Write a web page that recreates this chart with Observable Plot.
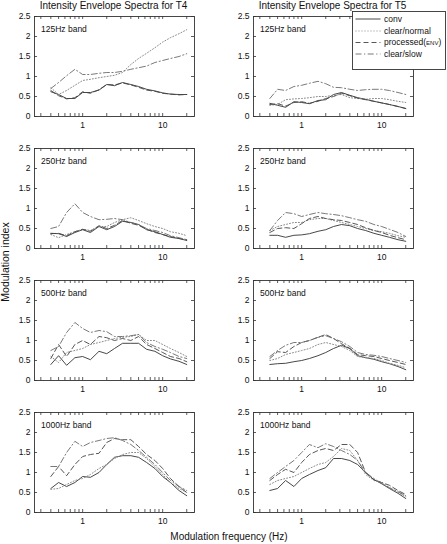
<!DOCTYPE html>
<html><head><meta charset="utf-8">
<script src="https://cdn.jsdelivr.net/npm/d3@7"></script>
<script src="https://cdn.jsdelivr.net/npm/@observablehq/plot@0.6"></script>
<style>
body{margin:0;background:#fff;font-family:"Liberation Sans",Arial,sans-serif;}
#root{position:relative;width:447px;height:544px;overflow:hidden;background:#fff;color:#111;}
.panel{position:absolute;}
.title{position:absolute;font-size:10px;line-height:10px;white-space:nowrap;transform:translateX(-50%);}
.ylab{position:absolute;font-size:10.5px;line-height:10.5px;white-space:nowrap;transform:translate(-50%,-50%) rotate(-90deg);}
.xlab{position:absolute;font-size:10px;line-height:10px;white-space:nowrap;transform:translateX(-50%);}
.legend{position:absolute;}
</style></head><body><div id="root"></div>
<script>
// ---- data ----
const freqs = [0.4, 0.5, 0.63, 0.8, 1, 1.25, 1.6, 2, 2.5, 3.15, 4, 5, 6.3, 8, 10, 12.5, 16, 20];
const talkers = ["T4", "T5"];
const bands = ["125Hz band", "250Hz band", "500Hz band", "1000Hz band"];
const seriesNames = ["conv", "clear/normal", "processed(ENV)", "clear/slow"];
const yTickValues = [0, 0.5, 1, 1.5, 2, 2.5];
const xTickLabels = [1, 10];
const xMinorTicks = [0.3, 0.4, 0.5, 0.6, 0.7, 0.8, 0.9, 1, 2, 3, 4, 5, 6, 7, 8, 9, 10, 20];

const T4_125_conv      = [0.62, 0.55, 0.45, 0.45, 0.6, 0.6, 0.66, 0.8, 0.77, 0.85, 0.8, 0.75, 0.68, 0.64, 0.59, 0.56, 0.55, 0.55];
const T4_125_normal    = [0.72, 0.55, 0.65, 0.78, 0.9, 0.93, 0.97, 1.0, 1.03, 1.1, 1.3, 1.45, 1.58, 1.72, 1.86, 1.97, 2.07, 2.17];
const T4_125_processed = [0.65, 0.52, 0.44, 0.47, 0.62, 0.58, 0.67, 0.8, 0.79, 0.84, 0.79, 0.73, 0.66, 0.63, 0.58, 0.56, 0.54, 0.55];
const T4_125_slow      = [0.7, 0.85, 1.02, 1.18, 1.05, 1.05, 1.08, 1.1, 1.1, 1.13, 1.18, 1.22, 1.26, 1.35, 1.4, 1.45, 1.5, 1.57];

const T5_125_conv      = [0.33, 0.28, 0.23, 0.37, 0.35, 0.32, 0.4, 0.42, 0.55, 0.6, 0.53, 0.47, 0.43, 0.38, 0.34, 0.3, 0.25, 0.2];
const T5_125_normal    = [0.28, 0.3, 0.42, 0.44, 0.45, 0.47, 0.5, 0.5, 0.53, 0.55, 0.47, 0.45, 0.43, 0.45, 0.45, 0.42, 0.38, 0.35];
const T5_125_processed = [0.3, 0.32, 0.26, 0.35, 0.37, 0.33, 0.38, 0.45, 0.5, 0.58, 0.52, 0.46, 0.42, 0.38, 0.34, 0.3, 0.25, 0.2];
const T5_125_slow      = [0.45, 0.68, 0.65, 0.75, 0.78, 0.83, 0.88, 0.82, 0.73, 0.72, 0.68, 0.65, 0.67, 0.68, 0.68, 0.65, 0.6, 0.55];

const T4_250_conv      = [0.38, 0.37, 0.3, 0.4, 0.47, 0.4, 0.55, 0.47, 0.55, 0.68, 0.65, 0.6, 0.47, 0.42, 0.35, 0.28, 0.25, 0.2];
const T4_250_normal    = [0.35, 0.27, 0.35, 0.42, 0.48, 0.45, 0.55, 0.55, 0.65, 0.72, 0.77, 0.7, 0.62, 0.55, 0.5, 0.42, 0.38, 0.32];
const T4_250_processed = [0.37, 0.38, 0.32, 0.42, 0.48, 0.43, 0.57, 0.5, 0.58, 0.7, 0.63, 0.58, 0.48, 0.4, 0.35, 0.3, 0.25, 0.22];
const T4_250_slow      = [0.5, 0.55, 0.9, 1.12, 0.9, 0.8, 0.72, 0.73, 0.75, 0.72, 0.65, 0.6, 0.5, 0.45, 0.4, 0.32, 0.27, 0.22];

const T5_250_conv      = [0.33, 0.33, 0.28, 0.33, 0.34, 0.37, 0.43, 0.47, 0.55, 0.6, 0.57, 0.5, 0.45, 0.38, 0.33, 0.28, 0.22, 0.18];
const T5_250_normal    = [0.45, 0.55, 0.6, 0.65, 0.65, 0.72, 0.75, 0.75, 0.7, 0.65, 0.6, 0.55, 0.5, 0.45, 0.42, 0.38, 0.32, 0.28];
const T5_250_processed = [0.4, 0.5, 0.52, 0.5, 0.62, 0.75, 0.8, 0.75, 0.72, 0.7, 0.65, 0.6, 0.52, 0.45, 0.4, 0.33, 0.27, 0.22];
const T5_250_slow      = [0.45, 0.7, 0.9, 0.87, 0.8, 0.85, 0.9, 0.87, 0.85, 0.82, 0.77, 0.72, 0.68, 0.6, 0.55, 0.48, 0.4, 0.3];

const T4_500_conv      = [0.4, 0.62, 0.38, 0.57, 0.6, 0.52, 0.73, 0.67, 0.8, 0.93, 0.93, 0.93, 0.78, 0.73, 0.62, 0.54, 0.48, 0.4];
const T4_500_normal    = [0.6, 0.45, 0.7, 0.75, 0.8, 0.9, 0.95, 1.0, 1.05, 1.08, 1.1, 1.15, 1.0, 1.0, 0.9, 0.8, 0.7, 0.6];
const T4_500_processed = [0.55, 0.9, 0.6, 0.9, 1.0, 0.9, 1.1, 1.07, 1.0, 1.05, 1.0, 1.1, 0.9, 0.8, 0.7, 0.6, 0.55, 0.47];
const T4_500_slow      = [0.75, 0.85, 1.2, 1.45, 1.3, 1.2, 1.25, 1.22, 1.1, 1.1, 1.12, 1.15, 0.95, 0.85, 0.78, 0.7, 0.6, 0.55];

const T5_500_conv      = [0.4, 0.42, 0.43, 0.47, 0.5, 0.55, 0.62, 0.7, 0.8, 0.88, 0.8, 0.62, 0.57, 0.53, 0.47, 0.42, 0.35, 0.27];
const T5_500_normal    = [0.5, 0.55, 0.65, 0.7, 0.75, 0.8, 0.9, 0.95, 0.9, 0.85, 0.75, 0.6, 0.57, 0.55, 0.5, 0.43, 0.38, 0.32];
const T5_500_processed = [0.55, 0.72, 0.7, 0.85, 0.95, 1.0, 1.08, 1.15, 1.05, 0.92, 0.8, 0.65, 0.62, 0.6, 0.55, 0.5, 0.45, 0.4];
const T5_500_slow      = [0.6, 0.75, 0.88, 0.95, 0.95, 1.0, 1.08, 1.12, 1.05, 0.97, 0.85, 0.7, 0.65, 0.63, 0.6, 0.55, 0.5, 0.45];

const T4_1000_conv      = [0.6, 0.75, 0.65, 0.75, 0.9, 0.88, 1.0, 1.2, 1.38, 1.42, 1.42, 1.38, 1.25, 1.1, 0.9, 0.75, 0.55, 0.42];
const T4_1000_normal    = [0.58, 0.6, 0.7, 0.8, 0.85, 0.95, 1.1, 1.2, 1.35, 1.45, 1.5, 1.5, 1.35, 1.15, 0.95, 0.75, 0.6, 0.5];
const T4_1000_processed = [0.9, 1.15, 0.92, 1.2, 1.4, 1.45, 1.48, 1.75, 1.85, 1.82, 1.82, 1.65, 1.45, 1.3, 1.1, 0.85, 0.65, 0.5];
const T4_1000_slow      = [1.15, 1.15, 1.5, 1.78, 1.65, 1.75, 1.8, 1.85, 1.87, 1.8, 1.7, 1.55, 1.38, 1.2, 1.0, 0.8, 0.65, 0.55];

const T5_1000_conv      = [0.55, 0.6, 0.8, 0.65, 0.85, 0.95, 1.05, 1.12, 1.35, 1.35, 1.3, 1.2, 1.0, 0.82, 0.72, 0.6, 0.48, 0.35];
const T5_1000_normal    = [0.7, 0.8, 0.85, 0.9, 1.0, 1.1, 1.2, 1.25, 1.4, 1.6, 1.55, 1.3, 0.95, 0.8, 0.75, 0.62, 0.5, 0.4];
const T5_1000_processed = [0.8, 0.95, 1.08, 1.0, 1.25, 1.45, 1.55, 1.6, 1.55, 1.7, 1.7, 1.5, 1.0, 0.82, 0.75, 0.68, 0.55, 0.45];
const T5_1000_slow      = [0.85, 1.0, 1.15, 1.3, 1.5, 1.7, 1.62, 1.72, 1.65, 1.55, 1.45, 1.3, 1.0, 0.85, 0.72, 0.62, 0.52, 0.42];

const panelSeries = {
  T4: [
    [T4_125_conv, T4_125_normal, T4_125_processed, T4_125_slow],
    [T4_250_conv, T4_250_normal, T4_250_processed, T4_250_slow],
    [T4_500_conv, T4_500_normal, T4_500_processed, T4_500_slow],
    [T4_1000_conv, T4_1000_normal, T4_1000_processed, T4_1000_slow]
  ],
  T5: [
    [T5_125_conv, T5_125_normal, T5_125_processed, T5_125_slow],
    [T5_250_conv, T5_250_normal, T5_250_processed, T5_250_slow],
    [T5_500_conv, T5_500_normal, T5_500_processed, T5_500_slow],
    [T5_1000_conv, T5_1000_normal, T5_1000_processed, T5_1000_slow]
  ]
};

// ---- styles ----
const seriesStyle = {
  "conv":           {stroke: "#333", dash: null, width: 0.9},
  "clear/normal":   {stroke: "#8a8a8a", dash: "1,2", width: 1},
  "processed(ENV)": {stroke: "#444", dash: "5,3", width: 0.9},
  "clear/slow":     {stroke: "#6a6a6a", dash: "6,2.5,1.2,2.5", width: 0.9}
};
const FONT = '"Liberation Sans", Arial, sans-serif';
const FW = 160, FH = 100, ML = 34, MR = 12, MT = 4, MB = 16;
const colLeft = [0, 219];
const rowTop = [16, 148, 280, 412];

function panel(arrs, bandLabel) {
  const rows = [];
  seriesNames.forEach((s, i) => arrs[i].forEach((v, j) => rows.push({series: s, f: freqs[j], v})));
  const lines = seriesNames.map(s => Plot.line(rows.filter(d => d.series === s), {
    x: "f", y: "v", stroke: seriesStyle[s].stroke, strokeWidth: seriesStyle[s].width,
    strokeDasharray: seriesStyle[s].dash
  }));
  return Plot.plot({
    width: ML + FW + MR, height: MT + FH + MB,
    marginLeft: ML, marginRight: MR, marginTop: MT, marginBottom: MB,
    style: {fontSize: "8.5px", fontFamily: FONT, background: "transparent", color: "#111", overflow: "visible"},
    x: {type: "log", domain: [0.25, 25]},
    y: {domain: [0, 2.5]},
    marks: [
      Plot.tickX(xMinorTicks, {x: d => d, insetTop: FH - 3, stroke: "#333", strokeWidth: 0.8}),
      Plot.tickX(xMinorTicks, {x: d => d, insetBottom: FH - 3, stroke: "#333", strokeWidth: 0.8}),
      Plot.tickY(yTickValues, {y: d => d, insetRight: FW - 3, stroke: "#333", strokeWidth: 0.8}),
      Plot.tickY(yTickValues, {y: d => d, insetLeft: FW - 3, stroke: "#333", strokeWidth: 0.8}),
      Plot.axisX({ticks: xTickLabels, tickSize: 0, tickPadding: 5, tickFormat: d => String(d), label: null}),
      Plot.axisY({ticks: yTickValues, tickSize: 0, tickPadding: 4, tickFormat: d => String(d), label: null}),
      ...lines,
      Plot.frame({stroke: "#333", strokeWidth: 0.9}),
      Plot.text([bandLabel], {text: d => d, frameAnchor: "top-left", dx: 6.5, dy: 9.5, textAnchor: "start", fontSize: 8.5, fill: "#111"})
    ]
  });
}

const root = document.getElementById("root");
talkers.forEach((t, c) => {
  bands.forEach((b, r) => {
    const svg = panel(panelSeries[t][r], b);
    svg.classList.add("panel");
    svg.style.left = colLeft[c] + "px";
    svg.style.top = (rowTop[r] - MT) + "px";
    root.appendChild(svg);
  });
  const title = document.createElement("div");
  title.className = "title";
  title.textContent = "Intensity Envelope Spectra for " + t;
  title.style.left = (colLeft[c] + ML + FW / 2 - 0.5) + "px";
  title.style.top = "0.5px";
  root.appendChild(title);
});

const ylab = document.createElement("div");
ylab.className = "ylab";
ylab.textContent = "Modulation index";
ylab.style.left = "5px";
ylab.style.top = "262px";
root.appendChild(ylab);

const xlab = document.createElement("div");
xlab.className = "xlab";
xlab.textContent = "Modulation frequency (Hz)";
xlab.style.left = "229px";
xlab.style.top = "532px";
root.appendChild(xlab);

// ---- legend ----
const legendW = 94, legendH = 59;
const lg = d3.create("svg").attr("class", "legend").attr("width", legendW).attr("height", legendH)
  .style("left", "352px").style("top", "11px").style("font-family", FONT);
lg.append("rect").attr("x", 0.5).attr("y", 0.5).attr("width", legendW - 1).attr("height", legendH - 1)
  .attr("fill", "#fff").attr("stroke", "#333").attr("stroke-width", 0.9);
const rowY = [8, 20, 31.5, 43];
seriesNames.forEach((s, i) => {
  const st = seriesStyle[s];
  lg.append("line").attr("x1", 3.5).attr("x2", 28.5).attr("y1", rowY[i]).attr("y2", rowY[i])
    .attr("stroke", st.stroke).attr("stroke-width", st.width).attr("stroke-dasharray", st.dash);
  const tx = lg.append("text").attr("x", 32).attr("y", rowY[i]).attr("dy", "0.35em")
    .attr("font-size", 8.5).attr("fill", "#111");
  if (s === "processed(ENV)") {
    tx.append("tspan").text("processed(");
    tx.append("tspan").attr("font-size", 6).text("ENV");
    tx.append("tspan").text(")");
  } else {
    tx.text(s);
  }
});
root.appendChild(lg.node());
</script>
</body></html>
